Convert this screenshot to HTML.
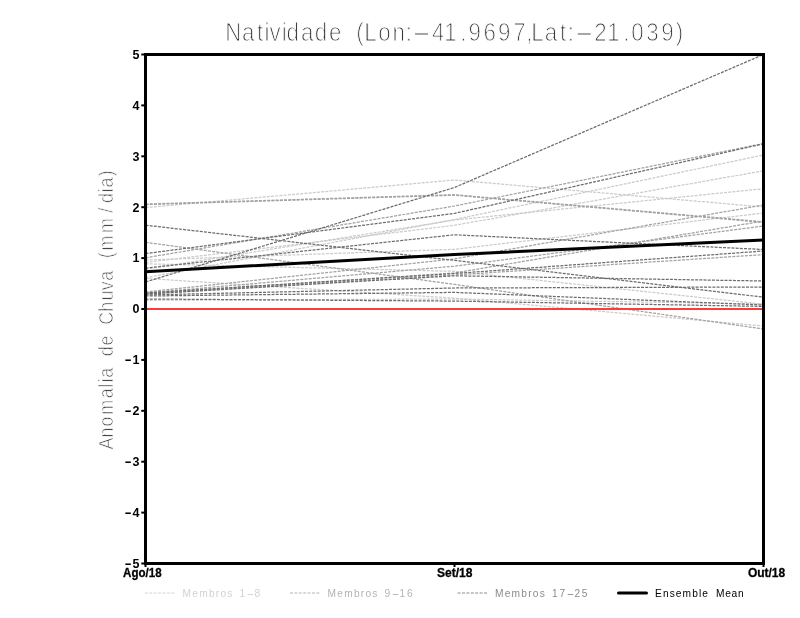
<!DOCTYPE html>
<html lang="pt-BR">
<head>
<meta charset="utf-8">
<title>Natividade (Lon:-41.9697,Lat:-21.039)</title>
<style>
html,body{margin:0;padding:0;background:#fff;}
body{width:800px;height:618px;overflow:hidden;}
svg{display:block;}
text{font-family:"Liberation Sans",sans-serif;}
.thin{paint-order:fill stroke;stroke:#fff;stroke-linejoin:round;}
.tick{font-weight:bold;font-size:12.5px;fill:#000;}
.leg{font-size:10.2px;}
.m{fill:none;stroke-width:1.25;stroke-dasharray:3 1.2;}
</style>
</head>
<body>
<svg width="800" height="618" viewBox="0 0 800 618">
<rect x="0" y="0" width="800" height="618" fill="#fff"/>
<text class="thin" text-anchor="middle" transform="scale(0.88,1)" y="41.5" font-size="25.4" fill="#383838" stroke-width="1.0"><tspan x="265.1 282.2 295.5 303.4 312.5 323.0 332.7 349.2 364.8 381.0 395.5 409.1 421.0 436.9 453.1 464.5">Natividade (Lon:</tspan><tspan text-anchor="start" x="467.0" textLength="23.9" lengthAdjust="spacingAndGlyphs">-</tspan><tspan x="498.0 511.9 526.5 539.5 556.5 573.1 590.3 601.7 610.8 626.1 639.8 648.6">41.9697,Lat:</tspan><tspan text-anchor="start" x="652.0" textLength="23.9" lengthAdjust="spacingAndGlyphs">-</tspan><tspan x="682.4 697.2 711.7 724.4 741.5 758.5 772.2">21.039)</tspan></text>
<text class="thin" text-anchor="middle" transform="rotate(-90) scale(0.88,1)" x="-504.1 -491.5 -479.0 -462.8 -446.8 -438.3 -432.5 -423.6 -413.6 -399.1 -387.0 -375.0 -361.6 -348.5 -335.9 -324.8 -313.4 -302.3 -290.2 -276.1 -256.2 -239.0 -225.1 -216.6 -207.4 -196.8" y="113.1" font-size="20.3" fill="#484848" stroke-width="0.75">Anomalia de Chuva (mm/dia)</text>
<g class="m">
<polyline stroke="#cbcbcb" points="145.5,207.6 454.5,180.0 763.5,207.0"/>
<polyline stroke="#cbcbcb" points="145.5,277.8 454.5,219.5 763.5,155.0"/>
<polyline stroke="#cbcbcb" points="145.5,269.3 454.5,220.0 763.5,188.7"/>
<polyline stroke="#cbcbcb" points="145.5,262.5 454.5,225.3 763.5,170.8"/>
<polyline stroke="#cbcbcb" points="145.5,260.0 454.5,249.3 763.5,213.0"/>
<polyline stroke="#cbcbcb" points="145.5,263.8 454.5,271.3 763.5,304.2"/>
<polyline stroke="#cbcbcb" points="145.5,278.4 454.5,298.2 763.5,326.0"/>
<polyline stroke="#cbcbcb" points="145.5,300.3 454.5,299.0 763.5,304.0"/>
<polyline stroke="#a2a2a2" points="145.5,204.1 454.5,194.7 763.5,221.8"/>
<polyline stroke="#a2a2a2" points="145.5,204.6 454.5,195.2 763.5,222.4"/>
<polyline stroke="#a2a2a2" points="145.5,242.3 454.5,284.4 763.5,329.0"/>
<polyline stroke="#a2a2a2" points="145.5,257.8 454.5,206.0 763.5,143.5"/>
<polyline stroke="#a2a2a2" points="145.5,292.0 454.5,258.9 763.5,205.0"/>
<polyline stroke="#a2a2a2" points="145.5,293.0 454.5,266.2 763.5,226.0"/>
<polyline stroke="#a2a2a2" points="145.5,293.5 454.5,273.0 763.5,221.0"/>
<polyline stroke="#a2a2a2" points="145.5,294.0 454.5,275.0 763.5,254.6"/>
<polyline stroke="#6c6c6c" points="145.5,225.2 454.5,260.4 763.5,297.2"/>
<polyline stroke="#6c6c6c" points="145.5,253.6 454.5,213.4 763.5,143.8"/>
<polyline stroke="#6c6c6c" points="145.5,268.1 454.5,234.8 763.5,249.5"/>
<polyline stroke="#6c6c6c" points="145.5,282.0 454.5,187.5 763.5,54.5"/>
<polyline stroke="#6c6c6c" points="145.5,293.0 454.5,273.5 763.5,251.0"/>
<polyline stroke="#6c6c6c" points="145.5,294.0 454.5,275.8 763.5,281.0"/>
<polyline stroke="#6c6c6c" points="145.5,295.0 454.5,288.0 763.5,287.0"/>
<polyline stroke="#6c6c6c" points="145.5,296.0 454.5,292.4 763.5,305.0"/>
<polyline stroke="#6c6c6c" points="145.5,299.0 454.5,301.1 763.5,306.4"/>
</g>
<polyline fill="none" stroke="#000" stroke-width="3" stroke-linejoin="round" points="145.5,271.8 454.5,254.5 763.5,240"/>
<line x1="146" y1="309" x2="763" y2="309" stroke="#fa3c3c" stroke-width="2"/>
<rect x="145.5" y="54.5" width="618" height="509" fill="none" stroke="#000" stroke-width="3"/>
<line x1="141.3" y1="54.5" x2="145" y2="54.5" stroke="#000" stroke-width="2"/>
<text class="tick" x="132.6" y="58.8">5</text>
<line x1="141.3" y1="105.4" x2="145" y2="105.4" stroke="#000" stroke-width="2"/>
<text class="tick" x="132.6" y="109.7">4</text>
<line x1="141.3" y1="156.3" x2="145" y2="156.3" stroke="#000" stroke-width="2"/>
<text class="tick" x="132.6" y="160.6">3</text>
<line x1="141.3" y1="207.2" x2="145" y2="207.2" stroke="#000" stroke-width="2"/>
<text class="tick" x="132.6" y="211.5">2</text>
<line x1="141.3" y1="258.1" x2="145" y2="258.1" stroke="#000" stroke-width="2"/>
<text class="tick" x="132.6" y="262.4">1</text>
<line x1="141.3" y1="309.0" x2="145" y2="309.0" stroke="#000" stroke-width="2"/>
<text class="tick" x="132.6" y="313.3">0</text>
<line x1="141.3" y1="359.9" x2="145" y2="359.9" stroke="#000" stroke-width="2"/>
<text class="tick" y="364.2"><tspan x="124.6" textLength="7.2" lengthAdjust="spacingAndGlyphs">-</tspan><tspan x="132.6">1</tspan></text>
<line x1="141.3" y1="410.8" x2="145" y2="410.8" stroke="#000" stroke-width="2"/>
<text class="tick" y="415.1"><tspan x="124.6" textLength="7.2" lengthAdjust="spacingAndGlyphs">-</tspan><tspan x="132.6">2</tspan></text>
<line x1="141.3" y1="461.7" x2="145" y2="461.7" stroke="#000" stroke-width="2"/>
<text class="tick" y="466.0"><tspan x="124.6" textLength="7.2" lengthAdjust="spacingAndGlyphs">-</tspan><tspan x="132.6">3</tspan></text>
<line x1="141.3" y1="512.6" x2="145" y2="512.6" stroke="#000" stroke-width="2"/>
<text class="tick" y="516.9"><tspan x="124.6" textLength="7.2" lengthAdjust="spacingAndGlyphs">-</tspan><tspan x="132.6">4</tspan></text>
<line x1="141.3" y1="563.5" x2="145" y2="563.5" stroke="#000" stroke-width="2"/>
<text class="tick" y="567.8"><tspan x="124.6" textLength="7.2" lengthAdjust="spacingAndGlyphs">-</tspan><tspan x="132.6">5</tspan></text>
<line x1="145.5" y1="564" x2="145.5" y2="567" stroke="#000" stroke-width="2"/>
<text class="tick" x="123.1" y="577.3" textLength="38.5" lengthAdjust="spacingAndGlyphs" stroke="#000" stroke-width="0.3">Ago/18</text>
<line x1="454.5" y1="564" x2="454.5" y2="567" stroke="#000" stroke-width="2"/>
<text class="tick" x="437.0" y="577.3" textLength="35.5" lengthAdjust="spacingAndGlyphs" stroke="#000" stroke-width="0.3">Set/18</text>
<line x1="763.5" y1="564" x2="763.5" y2="567" stroke="#000" stroke-width="2"/>
<text class="tick" x="747.9" y="577.3" textLength="37.3" lengthAdjust="spacingAndGlyphs" stroke="#000" stroke-width="0.3">Out/18</text>
<line x1="144.9" y1="593" x2="174.3" y2="593" stroke="#d2d2d2" stroke-width="1" stroke-dasharray="3 1.4"/>
<text class="leg" y="597.3" fill="#d2d2d2"><tspan x="182.6" textLength="49.8" lengthAdjust="spacing">Membros</tspan> <tspan x="239.6">1</tspan><tspan x="246.8" textLength="7.6" lengthAdjust="spacingAndGlyphs">-</tspan><tspan x="254.5">8</tspan></text>
<line x1="290" y1="593" x2="320" y2="593" stroke="#b4b4b4" stroke-width="1" stroke-dasharray="3 1.4"/>
<text class="leg" y="597.3" fill="#b4b4b4"><tspan x="327.6" textLength="49.8" lengthAdjust="spacing">Membros</tspan> <tspan x="384.6">9</tspan><tspan x="391.8" textLength="7.6" lengthAdjust="spacingAndGlyphs">-</tspan><tspan x="399.5">1</tspan><tspan x="407.0">6</tspan></text>
<line x1="457.6" y1="593" x2="487.6" y2="593" stroke="#8c8c8c" stroke-width="1" stroke-dasharray="3 1.4"/>
<text class="leg" y="597.3" fill="#8c8c8c"><tspan x="495" textLength="49.8" lengthAdjust="spacing">Membros</tspan> <tspan x="552.0">1</tspan><tspan x="559.5">7</tspan><tspan x="566.7" textLength="7.6" lengthAdjust="spacingAndGlyphs">-</tspan><tspan x="574.4">2</tspan><tspan x="581.8">5</tspan></text>
<line x1="618.5" y1="593" x2="646.5" y2="593" stroke="#000" stroke-width="3" stroke-linecap="round"/>
<text class="leg" y="597.3" fill="#000"><tspan x="655" textLength="53" lengthAdjust="spacing">Ensemble</tspan> <tspan x="716" textLength="27.6" lengthAdjust="spacing">Mean</tspan></text>
</svg>
</body>
</html>
